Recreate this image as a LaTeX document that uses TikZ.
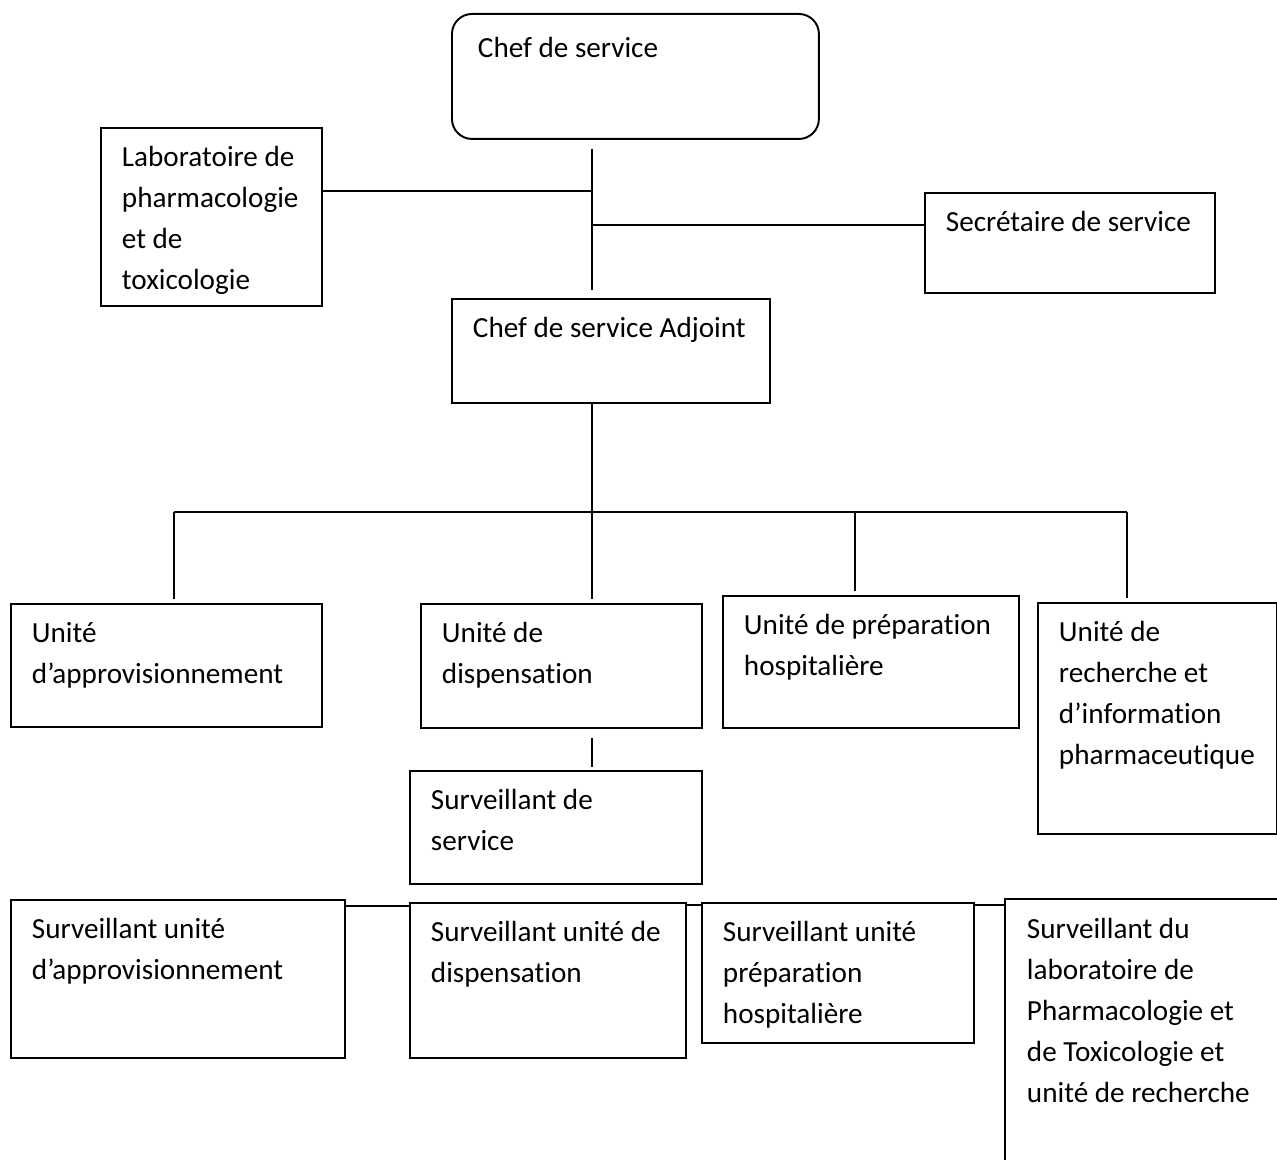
\documentclass[tikz,border=0pt]{standalone}
\usepackage{fontspec}
\setmainfont{Carlito}[Ligatures=NoCommon]
\usetikzlibrary{calc}

\tikzset{
  boite/.style={draw, line width=1.1pt, anchor=north west, align=flush left,
    inner xsep=0.42cm, inner ysep=0pt, text height=0.78cm,
    font=\fontsize{16.6}{23.3}\selectfont,
    execute at begin node={\rightskip=-1cm plus 1fil\relax}},
  trait/.style={line width=1.1pt}
}

\begin{document}
\begin{tikzpicture}[x=0.02cm, y=-0.02cm]
      \useasboundingbox (0,0) rectangle (1277,1159);
      % direction
      \node[boite, rounded corners=0.4cm, inner xsep=0.52cm, text width=6.30cm, text height=0.88cm, text depth=1.62cm] (chef) at (451,13) {Chef de service};
      \node[boite, text width=3.58cm, text depth=2.78cm] (labo) at (100,127) {Laboratoire de\\pharmacologie\\et de\\toxicologie};
      \node[boite, text width=4.96cm, text depth=1.22cm] (secr) at (924,192) {Secrétaire de service};
      \node[boite, text width=5.52cm, text depth=1.30cm] (adjoint) at (451,298) {Chef de service Adjoint};
      % unites
      \node[boite, text width=5.38cm, text depth=1.68cm] (uappro) at (10,603) {Unité\\d’approvisionnement};
      \node[boite, text width=4.78cm, text depth=1.70cm] (udisp) at (420,603) {Unité de\\dispensation};
      \node[boite, text width=5.08cm, text depth=1.86cm] (uprep) at (722,595) {Unité de préparation\\hospitalière};
      \node[boite, text width=3.94cm, text depth=3.84cm] (urech) at (1037,602) {Unité de\\recherche et\\d’information\\pharmaceutique};
      \node[boite, text width=5.00cm, text depth=1.48cm] (ssvc) at (409,770) {Surveillant de\\service};
      % surveillants
      \node[boite, text width=5.84cm, text depth=2.38cm] (sappro) at (10,899) {Surveillant unité\\d’approvisionnement};
      \node[boite, text width=4.68cm, text depth=2.32cm] (sdisp) at (409,902) {Surveillant unité de\\dispensation};
      \node[boite, text width=4.60cm, text depth=2.02cm] (sprep) at (701,902) {Surveillant unité\\préparation\\hospitalière};
      \node[boite, draw=none, text width=4.60cm, text depth=4.42cm] (slabo) at (1005,899) {Surveillant du\\laboratoire de\\Pharmacologie et\\de Toxicologie et\\unité de recherche};
      \draw[trait] (slabo.south west) -- (slabo.north west) -- (slabo.north east);

      % liaisons
      \coordinate (axe) at (592,512);
      \coordinate (j1) at (592,191);
      \coordinate (j2) at (592,225);
      \coordinate (d1) at (174,512);
      \coordinate (d3) at (855,512);
      \coordinate (d4) at (1127,512);
      \draw[trait] ([yshift=-0.18cm]chef.south -| axe) -- ([yshift=0.16cm]adjoint.north -| axe);
      \draw[trait] (labo.east |- j1) -- (j1);
      \draw[trait] (j2) -- (secr.west |- j2);
      \draw[trait] (adjoint.south -| axe) -- (axe);
      \draw[trait] (d1) -- (d4);
      \foreach \n/\u in {d1/uappro, axe/udisp, d3/uprep, d4/urech}
        \draw[trait] (\n) -- ([yshift=0.08cm]\n |- \u.north);
      \draw[trait] ([yshift=-0.18cm]udisp.south -| axe) -- ([yshift=0.06cm]ssvc.north -| axe);
      \draw[trait] ([yshift=-0.14cm]sappro.north east) -- ([yshift=-0.14cm]sappro.north east -| sdisp.west);
      \draw[trait] ([yshift=-0.06cm]sdisp.north east) -- ([yshift=-0.06cm]sdisp.north east -| sprep.west);
      \draw[trait] ([yshift=-0.06cm]sprep.north east) -- ([yshift=-0.06cm]sprep.north east -| slabo.west);
    \end{tikzpicture}
\end{document}
